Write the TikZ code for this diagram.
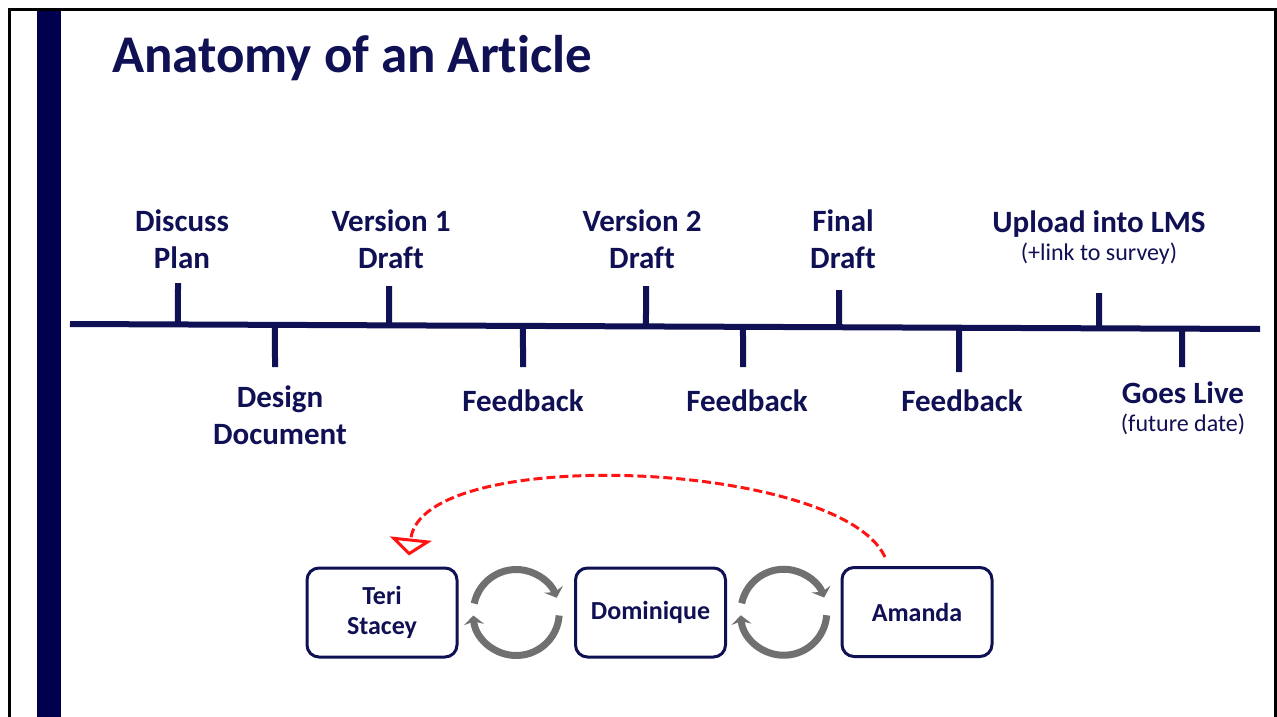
\documentclass[tikz,border=0pt]{standalone}
\usepackage{fontspec}
\setmainfont{Carlito}[Ligatures={NoCommon}]
\usetikzlibrary{arrows.meta,calc}

\definecolor{navy}{RGB}{16,16,84}
\definecolor{barnavy}{RGB}{0,0,78}
\definecolor{cyclegray}{RGB}{112,112,112}
\definecolor{linkred}{RGB}{255,20,20}

\newcommand{\subline}[1]{{\mdseries\fontsize{24}{29}\selectfont #1}}

\tikzset{
  frame/.style={black, line width=3pt},
  axis/.style={navy, line width=6pt},
  tick/.style={navy, line width=6pt},
  lbl/.style={text=navy, font=\bfseries\fontsize{31}{37}\selectfont, align=center, anchor=base, inner sep=0pt},
  person/.style={draw=navy, line width=3pt, rounded corners=12pt, minimum width=150pt, minimum height=89pt,
    text=navy, font=\bfseries\fontsize{26}{30}\selectfont, align=center, inner sep=0pt},
  cycle/.style={cyclegray, line width=7pt, -{Stealth[length=9pt,width=20pt,inset=3pt]}},
  handoff/.style={linkred, line width=3pt, dash pattern=on 9pt off 4pt,
    -{Triangle[open,length=17pt,width=42pt,line width=3pt]}}
}

\begin{document}
\begin{tikzpicture}[x=1pt,y=1pt]
\useasboundingbox (0,0) rectangle (1277,-717);
\fill[white] (0,0) rectangle (1277,-717);

% slide frame and side bar
\draw[frame] (9.5,-717) -- (9.5,-9.5) -- (1275.5,-9.5) -- (1275.5,-717);
\fill[barnavy] (37,-11) rectangle (61,-717);

% title
\node[anchor=base west, inner sep=0pt, text=navy, font=\bfseries\fontsize{53}{60}\selectfont]
  (title) at (112,-73) {Anatomy of an Article};

% timeline axis
\coordinate (tl-a) at (70,-324);
\coordinate (tl-b) at (1260,-329);
\draw[axis] (tl-a) -- (tl-b);

% ticks: name / x position / end of tick
\foreach \n/\x/\y in {t1/178/283, t2/275/367, t3/389/286, t4/523/367, t5/646/286,
                      t6/743/367, t7/839/290, t8/959/372, t9/1099/293, t10/1182/367}{
  \coordinate (\n-end) at (\x,-\y);
  \coordinate (\n-base) at ($(tl-a)!{(\x-70)/1190}!(tl-b)$);
  \draw[tick] (\n-base) -- (\n-end);
}

% milestone labels above the axis (anchored on the last line's baseline)
\node[lbl] (discuss) at (182,-268) {Discuss\\Plan};
\node[lbl] (v1) at (391,-268) {Version 1\\Draft};
\node[lbl] (v2) at (642,-268) {Version 2\\Draft};
\node[lbl] (final) at (843,-268) {Final\\Draft};
\node[lbl] (upload) at (1099,-260) {Upload into LMS\\[-9pt]\subline{(+link to survey)}};

% milestone labels below the axis
\node[lbl] (design) at (280,-444) {Design\\Document};
\node[lbl] (fb1) at (523,-411) {Feedback};
\node[lbl] (fb2) at (747,-411) {Feedback};
\node[lbl] (fb3) at (962,-411) {Feedback};
\node[lbl] (live) at (1183,-431) {Goes Live\\[-9pt]\subline{(future date)}};

% reviewers
\node[person] (teri) at (382,-612.5) {Teri\\Stacey};
\node[person] (dom) at (650.5,-612.5) {Dominique};
\node[person] (amanda) at (917,-612) {Amanda};

% exchange cycles between neighbouring reviewers
\coordinate (c1) at ($(teri.east)!0.5!(dom.west)$);
\coordinate (c2) at ($(dom.east)!0.5!(amanda.west)$);
\foreach \c in {c1,c2}{
  \draw[cycle] ([shift={(168:43)}]\c) arc[start angle=168, end angle=20, radius=43];
  \draw[cycle] ([shift={(-4:43)}]\c) arc[start angle=-4, end angle=-176, radius=43];
}

% hand-back from Amanda to Teri/Stacey
\draw[handoff] ([xshift=-32pt,yshift=9pt]amanda.north)
  .. controls +(-45,97) and +(12,112) .. ([xshift=27pt,yshift=11pt]teri.north);
\end{tikzpicture}
\end{document}
